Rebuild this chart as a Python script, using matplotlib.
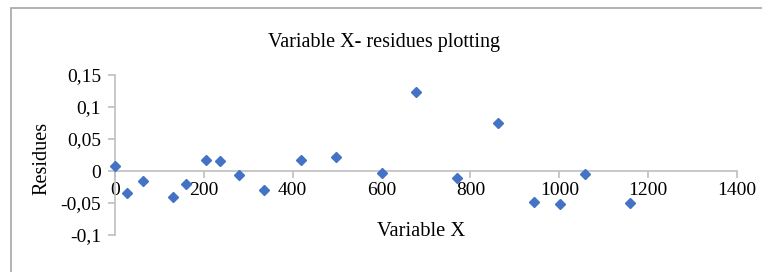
import matplotlib
matplotlib.use('Agg')
import matplotlib.pyplot as plt
from matplotlib.patches import Rectangle
from matplotlib.ticker import FuncFormatter

# Data
variable_x = [0, 27, 62, 130, 160, 204, 236, 278, 335, 419, 497, 602,
              678, 769, 861, 943, 1001, 1057, 1159]
residues = [0.008, -0.035, -0.016, -0.040, -0.021, 0.017, 0.016, -0.006,
            -0.029, 0.017, 0.022, -0.003, 0.124, -0.011, 0.075, -0.049,
            -0.052, -0.004, -0.050]
x_ticks = [0, 200, 400, 600, 800, 1000, 1200, 1400]
y_ticks = [-0.1, -0.05, 0, 0.05, 0.1, 0.15]

plt.rcParams['font.family'] = 'Liberation Serif'
grey = '#BFBFBF'

fig = plt.figure(figsize=(7.62, 2.72), dpi=100)
ax = fig.add_axes([115 / 762, 1 - 235 / 272, 622 / 762, 160 / 272])

# chart area border (cut off at right and bottom like the reference)
fig.patches.append(Rectangle((11 / 762, -0.2), 1.2, 1.2 - 8 / 272,
                             transform=fig.transFigure, fill=False,
                             edgecolor='#A6A6A6', linewidth=1.2))

ax.plot(variable_x, residues, linestyle='none', marker='D', markersize=5.3,
        color='#4472C4', clip_on=False, zorder=3)

ax.set_xlim(0, 1400)
ax.set_ylim(-0.1, 0.15)
ax.set_xticks(x_ticks)
ax.set_yticks(y_ticks)


def comma_fmt(v, pos):
    if abs(v) < 1e-12:
        return '0'
    return f'{v:g}'.replace('.', ',')


ax.yaxis.set_major_formatter(FuncFormatter(comma_fmt))

ax.spines['top'].set_visible(False)
ax.spines['right'].set_visible(False)
ax.spines['bottom'].set_position(('data', 0))
for s in ('left', 'bottom'):
    ax.spines[s].set_color(grey)
    ax.spines[s].set_linewidth(1.2)
ax.tick_params(axis='both', colors=grey, labelcolor='black', labelsize=14,
               length=5, width=1.2, direction='out')
ax.tick_params(axis='y', pad=5)
ax.tick_params(axis='x', pad=3)
ax.patch.set_alpha(0)

fig.text(384 / 762, 1 - 43 / 272, 'Variable X- residues plotting',
         ha='center', va='center', fontsize=14.5)
fig.text(421 / 762, 1 - 232 / 272, 'Variable X', ha='center', va='center',
         fontsize=14.8)
fig.text(42 / 762, 1 - 158 / 272, 'Residues', ha='center', va='center',
         rotation=90, fontsize=14.6)

fig.savefig('out.png', dpi=100)
